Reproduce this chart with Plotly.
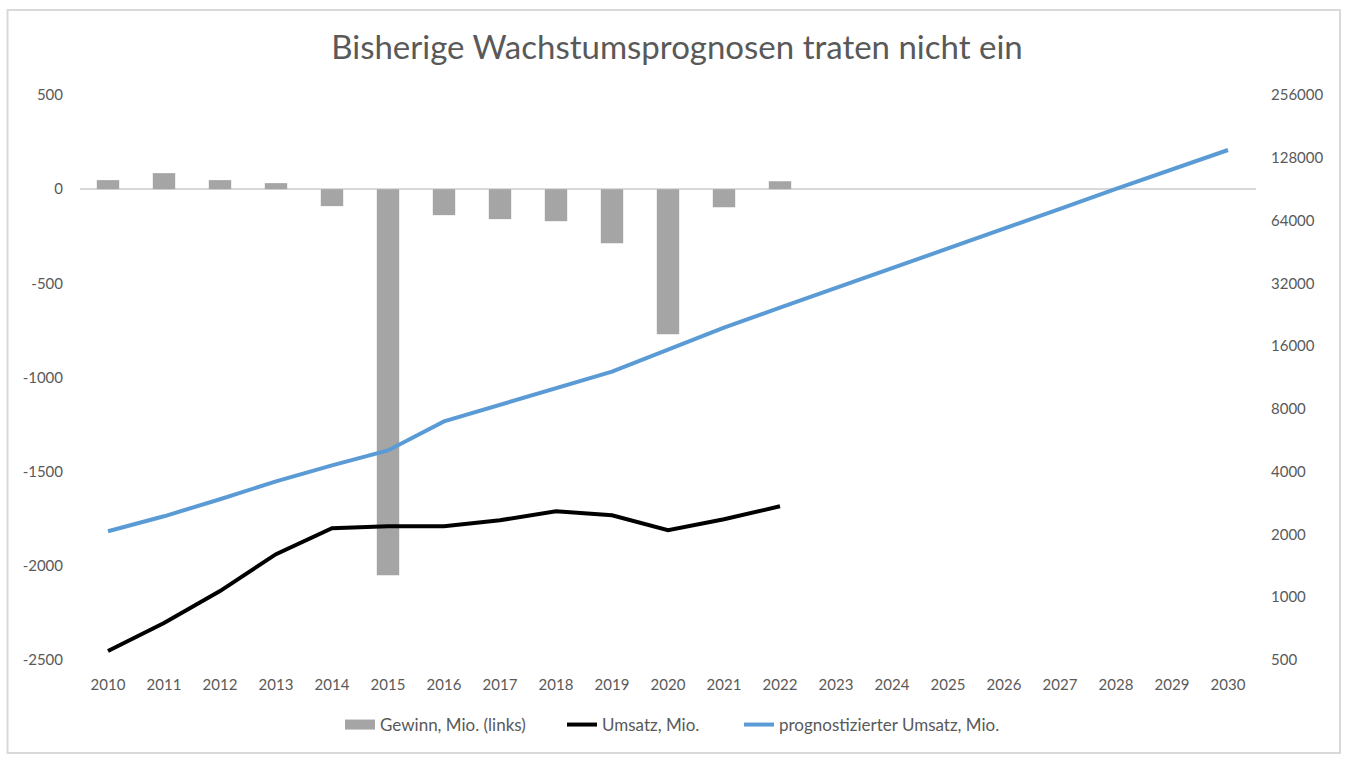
import plotly.graph_objects as go
import math

years = [str(y) for y in range(2010, 2031)]
gewinn_years = [str(y) for y in range(2010, 2023)]
gewinn = [48, 85, 48, 32, -90, -2050, -138, -159, -170, -287, -770, -96, 42]
umsatz = [552, 752, 1070, 1608, 2142, 2190, 2190, 2340, 2583, 2471, 2095, 2365, 2729]
prognose = [2072, 2444, 2949, 3595, 4287, 5058, 6964, 8398, 10015, 12082, 15395,
            19620, 24460, 30490, 38000, 47400, 58400, 72800, 90700, 111900, 139500]
left_ticks = [-2500, -2000, -1500, -1000, -500, 0, 500]
right_ticks = [500, 1000, 2000, 4000, 8000, 16000, 32000, 64000, 128000, 256000]

FONT = "Lato"
GREY_TXT = "#595959"
BAR_COLOR = "#A5A5A5"

fig = go.Figure()
fig.add_trace(go.Bar(x=gewinn_years, y=gewinn, name="Gewinn, Mio. (links)",
                     marker=dict(color=BAR_COLOR, line=dict(width=0)), yaxis="y",
                     showlegend=False))
# legend entry for the bars drawn as a wide rectangle like the original
fig.add_trace(go.Scatter(x=[None], y=[None], name="Gewinn, Mio. (links)", mode="lines",
                         line=dict(color=BAR_COLOR, width=10), yaxis="y", legend="legend"))
fig.add_trace(go.Scatter(x=gewinn_years, y=umsatz, name="Umsatz, Mio.", mode="lines",
                         line=dict(color="#000000", width=4), yaxis="y2", legend="legend2"))
fig.add_trace(go.Scatter(x=years, y=prognose, name="prognostizierter Umsatz, Mio.", mode="lines",
                         line=dict(color="#5B9BD5", width=4), yaxis="y2", legend="legend3"))

W, H = 1354, 762
l, r, t, b = 80, 98, 95, 102
pw, ph = W - l - r, H - t - b

def px(x):
    return (x - l) / pw

def py(y):
    return (H - b - y) / ph

def leg(xpix):
    return dict(orientation="h", x=px(xpix), xanchor="left", y=py(725), yanchor="middle",
                font=dict(size=17, color=GREY_TXT), itemwidth=30,
                bgcolor="rgba(0,0,0,0)", borderwidth=0)

fig.update_layout(
    width=W, height=H,
    margin=dict(l=l, r=r, t=t, b=b),
    paper_bgcolor="white", plot_bgcolor="white",
    font=dict(family=FONT, color=GREY_TXT, size=15),
    title=dict(text="Bisherige Wachstumsprognosen traten nicht ein",
               x=0.5, xanchor="center", y=1 - 47 / H, yanchor="middle",
               font=dict(size=33, color=GREY_TXT, family=FONT)),
    bargap=0.6,
    showlegend=True,
    legend=leg(340),
    legend2=leg(562),
    legend3=leg(739),
    xaxis=dict(type="category", categoryorder="array", categoryarray=years,
               range=[-0.5, 20.5], showgrid=False, showline=False, ticks="",
               tickfont=dict(size=15, color=GREY_TXT), ticklabelstandoff=14),
    yaxis=dict(range=[-2500, 500], tickvals=left_ticks,
               ticktext=[str(v) for v in left_ticks], showgrid=False, showline=False,
               zeroline=True, zerolinecolor="#D9D9D9", zerolinewidth=2,
               tickfont=dict(size=15, color=GREY_TXT), ticks="", ticklabelstandoff=16),
    yaxis2=dict(type="log", range=[math.log10(500), math.log10(256000)], overlaying="y",
                side="right", tickvals=right_ticks, ticktext=[str(v) for v in right_ticks],
                showgrid=False, showline=False, zeroline=False, ticks="",
                tickfont=dict(size=15, color=GREY_TXT), ticklabelstandoff=14),
    shapes=[dict(type="rect", xref="paper", yref="paper",
                 x0=px(7.5), x1=px(1340), y0=py(753), y1=py(10),
                 line=dict(color="#D9D9D9", width=2), fillcolor="rgba(0,0,0,0)", layer="below")],
)

fig.write_html("out.html")
